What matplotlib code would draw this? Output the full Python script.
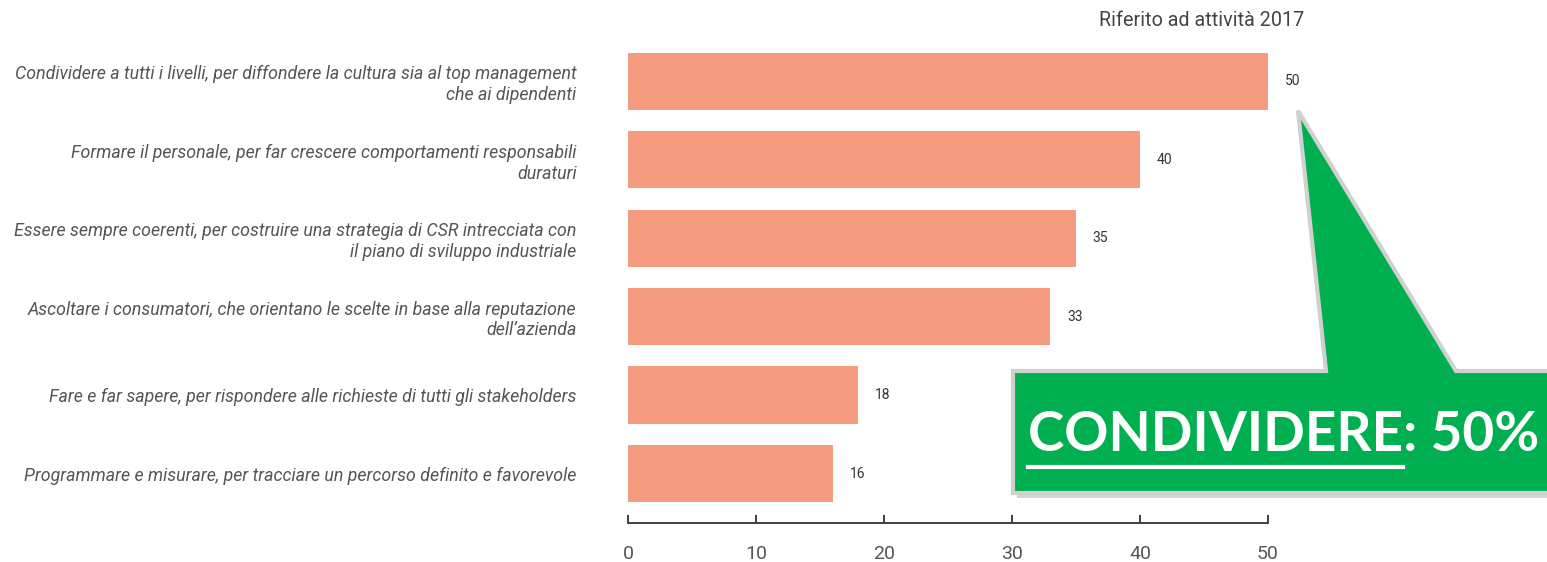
import matplotlib
matplotlib.use("Agg")
import matplotlib.pyplot as plt
from matplotlib.patches import Polygon
from matplotlib.lines import Line2D

categories = [
    "Condividere a tutti i livelli, per diffondere la cultura sia al top management\nche ai dipendenti",
    "Formare il personale, per far crescere comportamenti responsabili\nduraturi",
    "Essere sempre coerenti, per costruire una strategia di CSR intrecciata con\nil piano di sviluppo industriale",
    "Ascoltare i consumatori, che orientano le scelte in base alla reputazione\ndell\u2019azienda",
    "Fare e far sapere, per rispondere alle richieste di tutti gli stakeholders",
    "Programmare e misurare, per tracciare un percorso definito e favorevole",
]
values = [50, 40, 35, 33, 18, 16]
xticks = [0, 10, 20, 30, 40, 50]
title = "Riferito ad attività 2017"
callout_word = "CONDIVIDERE"
callout_text = "CONDIVIDERE: 50%"

W, H = 1547, 562


def fx(x):
    return x / W


def fy(y):
    return 1 - y / H


fig = plt.figure(figsize=(W / 100, H / 100), dpi=100)
ax = fig.add_axes([fx(628), fy(523), 640 / W, 481 / H])

ypos = list(range(len(values)))
ax.barh(ypos, values, height=0.73, color="#F49B80")
ax.set_xlim(0, 50)
ax.set_ylim(5.63, -0.5)

for s in ["top", "right", "left"]:
    ax.spines[s].set_visible(False)
ax.spines["bottom"].set_color("#333333")
ax.spines["bottom"].set_linewidth(1.3)

ax.set_xticks(xticks)
ax.tick_params(axis="x", direction="in", length=5.8, width=1.3, color="#333333",
               pad=16, labelsize=14, labelcolor="#555555")
ax.set_yticks(ypos)
ax.set_yticklabels(categories, family="Roboto", fontstyle="italic")
ax.tick_params(axis="y", length=0, pad=37, labelsize=12.8, labelcolor="#555555")
for lab in ax.get_yticklabels():
    lab.set_linespacing(1.2)
for lab in ax.get_xticklabels():
    lab.set_family("Roboto")

# value labels
for i, v in enumerate(values):
    ax.annotate(str(v), (v, i), xytext=(12, 0), textcoords="offset points",
                va="center", ha="left", fontsize=10, color="#333333", family="Roboto")

fig.text(fx(1304), fy(20), title, ha="right", va="center", fontsize=14.2,
         color="#444444", family="Roboto")

# callout pointing at the first bar
tip = ax.transData.transform((values[0], 0))
tip_f = ((tip[0] + 30) / W, (tip[1] - 29.5) / H)

pts = [(fx(1013), fy(371)), (fx(1326), fy(371)), tip_f, (fx(1456), fy(371)),
       (fx(1560), fy(371)), (fx(1560), fy(493)), (fx(1013), fy(493))]
shadow = [(x + 4 / W, y - 5 / H) for x, y in pts]
fig.patches.append(Polygon(shadow, closed=True, fc="#888888", ec="none", alpha=0.35,
                           transform=fig.transFigure, zorder=1))
fig.patches.append(Polygon(pts, closed=True, fc="#00B050", ec="#D0D0D0", lw=3,
                           joinstyle="miter", transform=fig.transFigure, zorder=1.1))

fsize = 39.5
t = fig.text(fx(1028), fy(451), callout_text, color="white", fontweight="bold",
             family="Lato", fontsize=fsize, ha="left", va="baseline", zorder=3)
tmp = fig.text(fx(1028), fy(451), callout_word, fontweight="bold", family="Lato",
               fontsize=fsize, ha="left", va="baseline", alpha=0)
r = fig.canvas.get_renderer()
bb = tmp.get_window_extent(renderer=r)
fig.lines.append(Line2D([fx(1028), bb.x1 / W], [fy(467), fy(467)], color="white",
                        lw=3, transform=fig.transFigure, zorder=3))

fig.savefig("out.png", dpi=100)
